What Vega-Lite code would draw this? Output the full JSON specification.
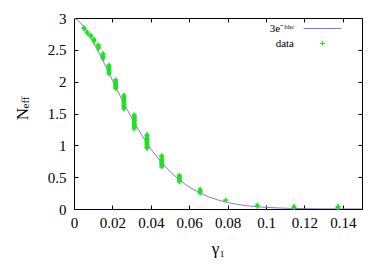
{
  "$schema": "https://vega.github.io/schema/vega-lite/v6.json",
  "width": 288,
  "height": 191,
  "autosize": {"type": "none"},
  "padding": {"left": 74, "top": 18, "right": 27, "bottom": 64},
  "background": "white",
  "config": {
    "view": {"stroke": "#000", "strokeWidth": 1},
    "font": "Liberation Serif",
    "axis": {"labelFont": "Liberation Serif", "titleFont": "Liberation Serif", "labelColor": "#000", "titleColor": "#000", "tickColor": "#000", "domain": false, "grid": false, "titleFontWeight": "normal"},
    "legend": {"labelFont": "Liberation Serif"}
  },
  "datasets": {
    "fit": [
      {"h": 0, "N": 3, "series": "fit"},
      {"h": 0.0025, "N": 2.953, "series": "fit"},
      {"h": 0.005, "N": 2.865, "series": "fit"},
      {"h": 0.0075, "N": 2.752, "series": "fit"},
      {"h": 0.01, "N": 2.622, "series": "fit"},
      {"h": 0.0125, "N": 2.481, "series": "fit"},
      {"h": 0.015, "N": 2.333, "series": "fit"},
      {"h": 0.0175, "N": 2.179, "series": "fit"},
      {"h": 0.02, "N": 2.023, "series": "fit"},
      {"h": 0.0225, "N": 1.869, "series": "fit"},
      {"h": 0.025, "N": 1.719, "series": "fit"},
      {"h": 0.0275, "N": 1.574, "series": "fit"},
      {"h": 0.03, "N": 1.434, "series": "fit"},
      {"h": 0.035, "N": 1.173, "series": "fit"},
      {"h": 0.04, "N": 0.945, "series": "fit"},
      {"h": 0.045, "N": 0.75, "series": "fit"},
      {"h": 0.05, "N": 0.587, "series": "fit"},
      {"h": 0.055, "N": 0.452, "series": "fit"},
      {"h": 0.06, "N": 0.345, "series": "fit"},
      {"h": 0.065, "N": 0.259, "series": "fit"},
      {"h": 0.07, "N": 0.192, "series": "fit"},
      {"h": 0.075, "N": 0.141, "series": "fit"},
      {"h": 0.08, "N": 0.102, "series": "fit"},
      {"h": 0.085, "N": 0.073, "series": "fit"},
      {"h": 0.09, "N": 0.052, "series": "fit"},
      {"h": 0.095, "N": 0.0365, "series": "fit"},
      {"h": 0.1, "N": 0.0253, "series": "fit"},
      {"h": 0.11, "N": 0.0118, "series": "fit"},
      {"h": 0.12, "N": 0.0053, "series": "fit"},
      {"h": 0.13, "N": 0.0023, "series": "fit"},
      {"h": 0.14, "N": 0.001, "series": "fit"},
      {"h": 0.15, "N": 0.0004, "series": "fit"}
    ],
    "pts": [
      {"h": 0.0052, "N": 2.83, "series": "data"}, {"h": 0.0052, "N": 2.85, "series": "data"},
      {"h": 0.0069, "N": 2.76, "series": "data"}, {"h": 0.0069, "N": 2.78, "series": "data"},
      {"h": 0.0087, "N": 2.71, "series": "data"}, {"h": 0.0087, "N": 2.73, "series": "data"},
      {"h": 0.0104, "N": 2.63, "series": "data"}, {"h": 0.0104, "N": 2.65, "series": "data"}, {"h": 0.0104, "N": 2.67, "series": "data"},
      {"h": 0.0127, "N": 2.52, "series": "data"}, {"h": 0.0127, "N": 2.54, "series": "data"}, {"h": 0.0127, "N": 2.56, "series": "data"}, {"h": 0.0127, "N": 2.58, "series": "data"},
      {"h": 0.0151, "N": 2.36, "series": "data"}, {"h": 0.0151, "N": 2.38, "series": "data"}, {"h": 0.0151, "N": 2.4, "series": "data"}, {"h": 0.0151, "N": 2.42, "series": "data"}, {"h": 0.0151, "N": 2.44, "series": "data"},
      {"h": 0.0182, "N": 2.12, "series": "data"}, {"h": 0.0182, "N": 2.14, "series": "data"}, {"h": 0.0182, "N": 2.16, "series": "data"}, {"h": 0.0182, "N": 2.18, "series": "data"}, {"h": 0.0182, "N": 2.2, "series": "data"}, {"h": 0.0182, "N": 2.22, "series": "data"}, {"h": 0.0182, "N": 2.24, "series": "data"}, {"h": 0.0182, "N": 2.26, "series": "data"},
      {"h": 0.0217, "N": 1.89, "series": "data"}, {"h": 0.0217, "N": 1.91, "series": "data"}, {"h": 0.0217, "N": 1.93, "series": "data"}, {"h": 0.0217, "N": 1.95, "series": "data"}, {"h": 0.0217, "N": 1.97, "series": "data"}, {"h": 0.0217, "N": 1.99, "series": "data"}, {"h": 0.0217, "N": 2.01, "series": "data"}, {"h": 0.0217, "N": 2.03, "series": "data"},
      {"h": 0.026, "N": 1.57, "series": "data"}, {"h": 0.026, "N": 1.59, "series": "data"}, {"h": 0.026, "N": 1.61, "series": "data"}, {"h": 0.026, "N": 1.63, "series": "data"}, {"h": 0.026, "N": 1.65, "series": "data"}, {"h": 0.026, "N": 1.67, "series": "data"}, {"h": 0.026, "N": 1.69, "series": "data"}, {"h": 0.026, "N": 1.71, "series": "data"}, {"h": 0.026, "N": 1.73, "series": "data"}, {"h": 0.026, "N": 1.75, "series": "data"}, {"h": 0.026, "N": 1.77, "series": "data"}, {"h": 0.026, "N": 1.79, "series": "data"},
      {"h": 0.0314, "N": 1.26, "series": "data"}, {"h": 0.0314, "N": 1.28, "series": "data"}, {"h": 0.0314, "N": 1.3, "series": "data"}, {"h": 0.0314, "N": 1.32, "series": "data"}, {"h": 0.0314, "N": 1.34, "series": "data"}, {"h": 0.0314, "N": 1.36, "series": "data"}, {"h": 0.0314, "N": 1.38, "series": "data"}, {"h": 0.0314, "N": 1.4, "series": "data"}, {"h": 0.0314, "N": 1.42, "series": "data"}, {"h": 0.0314, "N": 1.44, "series": "data"}, {"h": 0.0314, "N": 1.46, "series": "data"}, {"h": 0.0314, "N": 1.48, "series": "data"},
      {"h": 0.038, "N": 0.95, "series": "data"}, {"h": 0.038, "N": 0.97, "series": "data"}, {"h": 0.038, "N": 0.99, "series": "data"}, {"h": 0.038, "N": 1.01, "series": "data"}, {"h": 0.038, "N": 1.03, "series": "data"}, {"h": 0.038, "N": 1.05, "series": "data"}, {"h": 0.038, "N": 1.07, "series": "data"}, {"h": 0.038, "N": 1.09, "series": "data"}, {"h": 0.038, "N": 1.11, "series": "data"}, {"h": 0.038, "N": 1.13, "series": "data"}, {"h": 0.038, "N": 1.15, "series": "data"}, {"h": 0.038, "N": 1.17, "series": "data"},
      {"h": 0.0457, "N": 0.66, "series": "data"}, {"h": 0.0457, "N": 0.68, "series": "data"}, {"h": 0.0457, "N": 0.7, "series": "data"}, {"h": 0.0457, "N": 0.72, "series": "data"}, {"h": 0.0457, "N": 0.74, "series": "data"}, {"h": 0.0457, "N": 0.76, "series": "data"}, {"h": 0.0457, "N": 0.78, "series": "data"}, {"h": 0.0457, "N": 0.8, "series": "data"}, {"h": 0.0457, "N": 0.82, "series": "data"}, {"h": 0.0457, "N": 0.84, "series": "data"},
      {"h": 0.0549, "N": 0.43, "series": "data"}, {"h": 0.0549, "N": 0.45, "series": "data"}, {"h": 0.0549, "N": 0.47, "series": "data"}, {"h": 0.0549, "N": 0.49, "series": "data"}, {"h": 0.0549, "N": 0.51, "series": "data"}, {"h": 0.0549, "N": 0.53, "series": "data"},
      {"h": 0.0657, "N": 0.25, "series": "data"}, {"h": 0.0657, "N": 0.27, "series": "data"}, {"h": 0.0657, "N": 0.29, "series": "data"}, {"h": 0.0657, "N": 0.31, "series": "data"},
      {"h": 0.079, "N": 0.14, "series": "data"},
      {"h": 0.0955, "N": 0.04, "series": "data"}, {"h": 0.0955, "N": 0.06, "series": "data"},
      {"h": 0.1146, "N": 0.02, "series": "data"}, {"h": 0.1146, "N": 0.04, "series": "data"},
      {"h": 0.1375, "N": 0.02, "series": "data"}, {"h": 0.1375, "N": 0.04, "series": "data"}
    ]
  },
  "layer": [
    {
      "data": {"name": "fit"},
      "mark": {"type": "line", "strokeWidth": 1, "clip": true},
      "encoding": {
        "x": {"field": "h", "type": "quantitative", "scale": {"domain": [0, 0.15], "nice": false},
          "axis": {"orient": "bottom", "values": [0, 0.02, 0.04, 0.06, 0.08, 0.1, 0.12, 0.14], "format": "~g", "tickSize": -4, "labelPadding": 10, "labelFontSize": 15, "labelFlush": false, "labelOverlap": false, "title": "γ₁", "titleFontSize": 17, "titlePadding": 10}},
        "y": {"field": "N", "type": "quantitative", "scale": {"domain": [0, 3], "nice": false},
          "axis": {"orient": "left", "values": [0, 0.5, 1, 1.5, 2, 2.5, 3], "format": "~g", "tickSize": -4, "labelPadding": 12, "labelFontSize": 15, "labelFlush": false, "labelOverlap": false, "title": "N", "titleFontSize": 17, "titlePadding": 16}},
        "color": {"field": "series", "type": "nominal",
          "scale": {"domain": ["fit", "data"], "range": ["#7b7bf0", "#22e022"]},
          "legend": {"orient": "none", "legendX": 243, "legendY": 5, "title": null,
            "labelExpr": "datum.value == 'fit' ? '3e⁻ᵇʰᶜ' : 'data'",
            "labelFontSize": 11, "labelColor": "#000",
            "labelAlign": "right", "labelOffset": -34, "rowPadding": 3, "symbolStrokeWidth": 1,
            "encode": {"symbols": {"update": {
              "shape": {"signal": "datum.value == 'fit' ? 'stroke' : 'M-1,0L1,0M0,-1L0,1'"},
              "size": {"signal": "datum.value == 'fit' ? 1444 : 25"},
              "fill": {"value": "transparent"},
              "stroke": {"signal": "datum.value == 'fit' ? '#7b7bf0' : '#22e022'"},
              "strokeWidth": {"value": 1.2}
            }}}}}
      }
    },
    {
      "data": {"name": "pts"},
      "mark": {"type": "point", "shape": "M-1,0L1,0M0,-1L0,1", "filled": false, "size": 22, "strokeWidth": 1.6, "opacity": 1},
      "encoding": {
        "x": {"field": "h", "type": "quantitative",
          "axis": {"orient": "top", "values": [0, 0.02, 0.04, 0.06, 0.08, 0.1, 0.12, 0.14], "tickSize": -4, "labels": false, "title": null}},
        "y": {"field": "N", "type": "quantitative",
          "axis": {"orient": "right", "values": [0, 0.5, 1, 1.5, 2, 2.5, 3], "tickSize": -4, "labels": false, "title": null}},
        "color": {"field": "series", "type": "nominal"}
      }
    },
    {
      "data": {"name": "fit"},
      "mark": {"type": "point", "opacity": 0},
      "encoding": {
        "x": {"field": "h", "type": "quantitative", "axis": null},
        "y": {"field": "N", "type": "quantitative",
          "axis": {"orient": "left", "ticks": false, "labels": false, "title": "eff", "titleFontSize": 11, "titleX": -44, "titleY": 84}}
      }
    }
  ],
  "resolve": {"axis": {"x": "independent", "y": "independent"}}
}
